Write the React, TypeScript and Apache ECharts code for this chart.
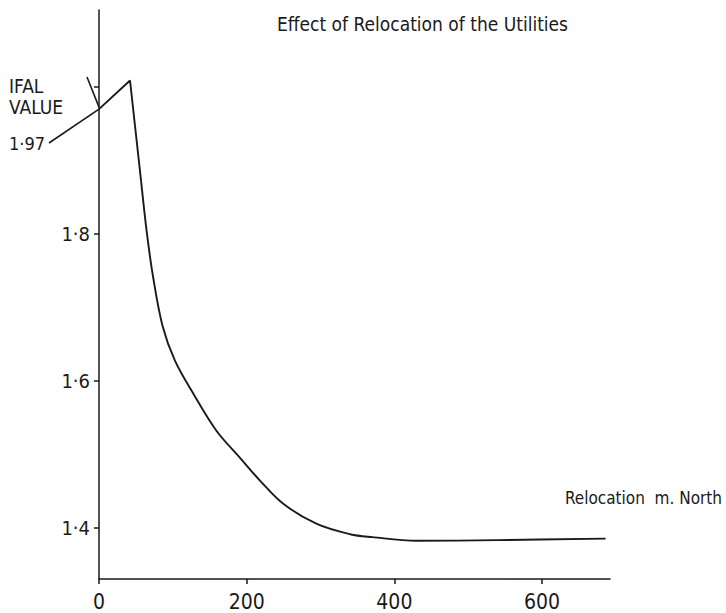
import React, { useEffect, useRef } from "react";
import * as echarts from "echarts";

const xTicks = [0, 200, 400, 600];
const yTicks = [1.4, 1.6, 1.8, 2.0];
const yLabels = [1.4, 1.6, 1.8];

// straight part: IFAL value to peak and steep drop
const rampX = [0, 42, 57];
const rampY = [1.97, 2.009, 1.872];

// smooth decay towards the plateau
const decayX = [57, 65, 73, 86, 103, 128, 159, 191, 218, 250, 295, 340, 370, 430, 540, 686];
const decayY = [1.872, 1.8, 1.743, 1.675, 1.627, 1.582, 1.532, 1.495, 1.464, 1.432, 1.405, 1.391, 1.387, 1.382, 1.383, 1.385];

const ifalValue = 1.97;

const FONT = "'Liberation Sans Narrow', 'DejaVu Sans Condensed', 'Roboto Condensed', 'Liberation Sans', sans-serif";
const INK = "#1a1a1a";

const fmt = (v: number, d: number) => v.toFixed(d).replace(".", "·");

export default function App() {
  const ref = useRef<HTMLDivElement>(null);
  useEffect(() => {
    if (!ref.current) return;
    const chart = echarts.init(ref.current, undefined, { renderer: "svg" });
    const option: any = {
      animation: false,
      backgroundColor: "#ffffff",
      title: {
        text: "Effect of Relocation of the Utilities",
        left: 272,
        top: 9,
        textStyle: { fontFamily: FONT, fontSize: 19, fontWeight: "normal", color: INK },
      },
      grid: { left: 99, right: 116, top: 10, bottom: 34 },
      xAxis: {
        type: "value",
        min: 0,
        max: 692,
        interval: 200,
        splitLine: { show: false },
        axisLine: { lineStyle: { color: INK, width: 1.5 } },
        axisTick: { length: 5, customValues: xTicks, lineStyle: { color: INK, width: 1.5 } },
        axisLabel: {
          customValues: xTicks,
          margin: 12,
          color: INK,
          fontFamily: FONT,
          fontSize: 21,
        },
      },
      yAxis: {
        type: "value",
        min: 1.33,
        max: 2.105,
        splitLine: { show: false },
        axisLine: { show: true, lineStyle: { color: INK, width: 1.5 } },
        axisTick: { show: true, length: 5, customValues: yTicks, lineStyle: { color: INK, width: 1.5 } },
        axisLabel: {
          customValues: yLabels,
          margin: 9,
          color: INK,
          fontFamily: FONT,
          fontSize: 20,
          formatter: (v: number) => fmt(v, 1),
        },
      },
      series: [
        {
          type: "line",
          data: rampX.map((x, i) => [x, rampY[i]]),
          showSymbol: false,
          lineStyle: { color: INK, width: 1.9 },
        },
        {
          type: "line",
          data: decayX.map((x, i) => [x, decayY[i]]),
          showSymbol: false,
          smooth: 0.35,
          lineStyle: { color: INK, width: 1.9 },
        },
      ],
    };
    chart.setOption(option);
    const p = chart.convertToPixel({ gridIndex: 0 }, [0, ifalValue]) as number[];
    chart.setOption({
      graphic: [
        { type: "text", left: 9, top: 76, style: { text: "IFAL", fontFamily: FONT, fontSize: 19, lineHeight: 19, fill: INK } },
        { type: "text", left: 9, top: 97, style: { text: "VALUE", fontFamily: FONT, fontSize: 19, lineHeight: 19, fill: INK } },
        { type: "text", left: 9, top: 134, style: { text: fmt(ifalValue, 2), fontFamily: FONT, fontSize: 18, lineHeight: 19, fill: INK } },
        { type: "line", shape: { x1: 49, y1: 143, x2: p[0], y2: p[1] }, style: { stroke: INK, lineWidth: 1.6 } },
        { type: "line", shape: { x1: 87, y1: 77, x2: p[0], y2: p[1] - 2 }, style: { stroke: INK, lineWidth: 1.6 } },
        { type: "text", right: 4, top: 489, style: { text: "Relocation  m. North", fontFamily: FONT, fontSize: 17, fill: INK } },
      ],
    });
    return () => chart.dispose();
  }, []);
  return <div ref={ref} style={{ position: "fixed", left: 0, top: 0, width: 726, height: 613 }} />;
}
